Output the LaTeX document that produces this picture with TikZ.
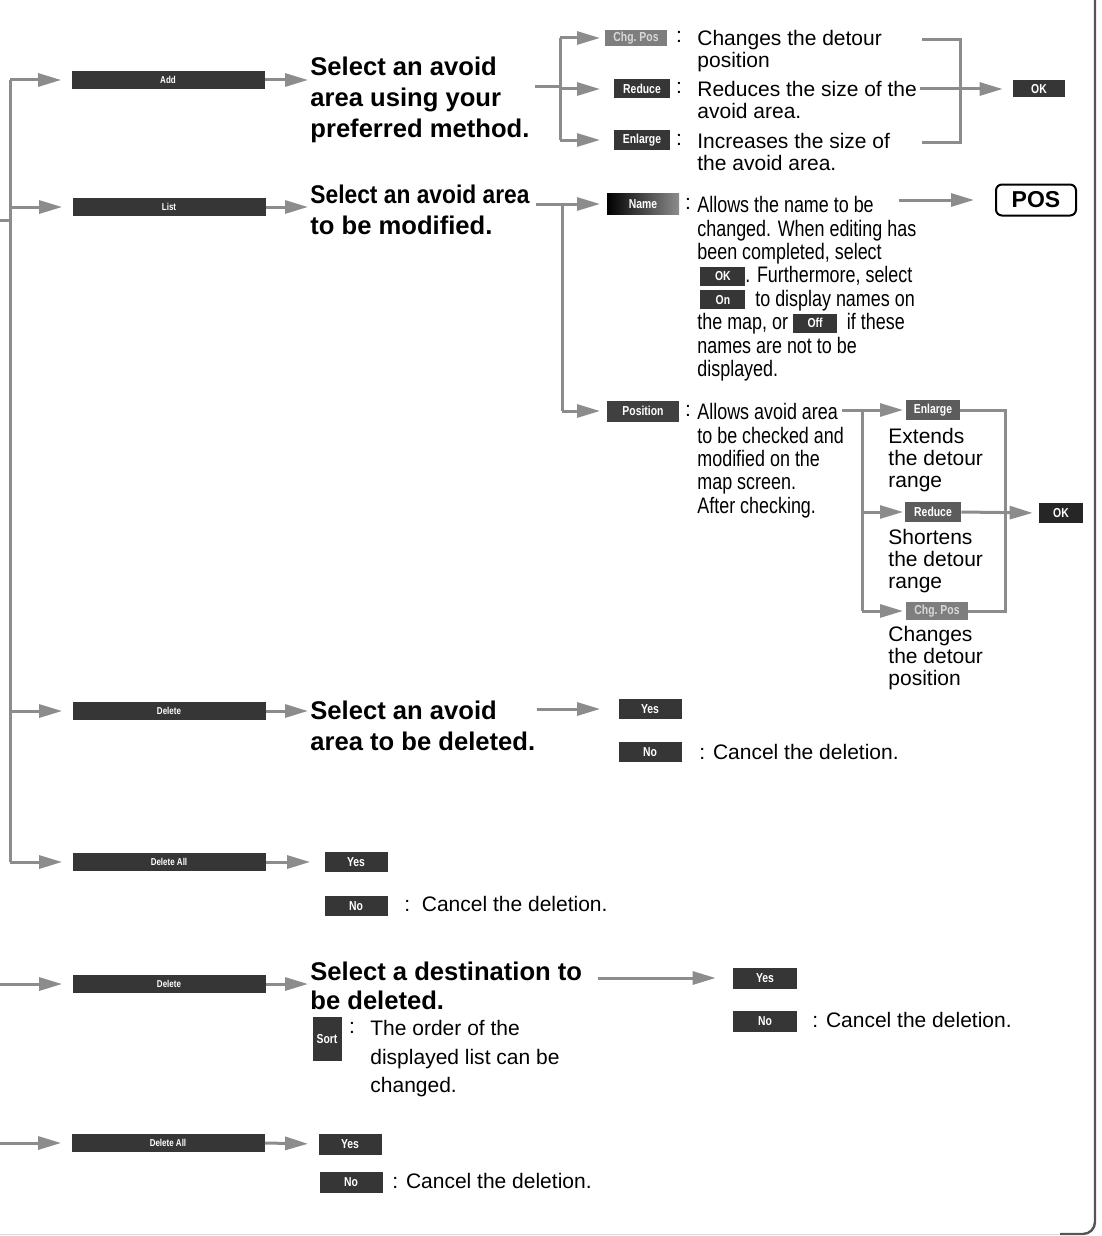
\documentclass[tikz,border=0pt]{standalone}
\usepackage{fontspec}
\setmainfont{Liberation Sans}
\newfontfamily\narrowfont[FakeStretch=0.8]{Liberation Sans}
\newfontfamily\headnarrow[FakeStretch=0.89]{Liberation Sans}
\usepackage{tikz}
\usetikzlibrary{arrows.meta,positioning,calc}
\usepackage{xcolor}
\definecolor{avgray}{HTML}{8C8C8C}
\definecolor{avdark}{HTML}{363636}
\definecolor{avmid}{HTML}{5C5C5C}
\definecolor{avlight}{HTML}{7E7E7E}
\definecolor{avframe}{HTML}{555555}
\tikzset{
  avbtn/.style={fill=avdark, text=white, inner sep=0pt, minimum width=31.5pt, minimum height=10pt,
    font=\narrowfont\bfseries\fontsize{6.5}{6.5}\selectfont},
  avlong/.style={avbtn, minimum width=96.5pt, minimum height=9pt,
    font=\narrowfont\bfseries\fontsize{5}{5}\selectfont},
  avhead/.style={anchor=north west, inner sep=0pt, align=left,
    font=\bfseries\fontsize{12.8}{15.5}\selectfont},
  avtext/.style={anchor=north west, inner sep=0pt, align=left, font=\fontsize{10.5}{11}\selectfont},
  avnarrow/.style={anchor=north west, inner sep=0pt, align=left,
    font=\narrowfont\fontsize{11.2}{11.7}\selectfont},
  avcolon/.style={inner sep=0pt, font=\fontsize{10.5}{11}\selectfont},
  avline/.style={draw=avgray, line width=1.5pt},
  avarrow/.style={avline, -{Triangle[length=11.5pt,width=6.5pt]}},
}
\newcommand{\avinbtn}[2]{{\setlength{\fboxsep}{0pt}\colorbox{avdark}{\makebox[#1]{\rule[-1.5pt]{0pt}{9.5pt}\raisebox{1pt}{\textcolor{white}{\bfseries\fontsize{6.5}{6.5}\selectfont #2}}}}}}

\begin{document}
\begin{tikzpicture}[x=0.5pt, y=-0.5pt]
  \useasboundingbox (0,0) rectangle (1102,1236);
  \coordinate (edge) at (0,0);

  % main menu buttons
  \node[avlong] (add) at (168,80) {Add};
  \node[avlong] (list) at (169,207) {List};
  \node[avlong] (del) at (169,711) {Delete};
  \node[avlong] (delall) at (169,862) {Delete All};
  \node[avlong] (deldest) at (169,984) {Delete};
  \node[avlong] (delalldest) at (168,1143) {Delete All};

  \coordinate (trunktop) at (10,80);
  \coordinate (trunkin) at (0,220);
  \draw[avline] (trunktop) -- (trunktop |- delall);
  \draw[avline] (trunkin) -- (trunkin -| trunktop);
  \foreach \b in {add,list,del,delall}
    \draw[avarrow, shorten >=5pt] (\b.west -| trunktop) -- (\b.west);
  \draw[avarrow, shorten >=5pt] (deldest.west -| edge) -- (deldest.west);
  \draw[avarrow, shorten >=5pt] (delalldest.west -| edge) -- (delalldest.west);

  % headings
  \node[avhead] (sadd) at (310,57) {Select an avoid\\area using your\\preferred method.};
  \node[avhead] (slist) at (310,185) {{\headnarrow\bfseries Select an avoid area}\\to be modified.};
  \node[avhead] (sdel) at (310,701) {Select an avoid\\area to be deleted.};
  \node[avhead, font=\bfseries\fontsize{12.8}{14.5}\selectfont] (sdest) at (310,962)
    {Select a destination to\\be deleted.};
  \foreach \b/\t in {add/sadd,list/slist,del/sdel,deldest/sdest}
    \draw[avarrow, shorten >=1pt] (\b.east) -- (\b.east -| \t.west);

  % Add
  \node[avbtn, fill=avlight, text=white!85!black, minimum width=31pt, minimum height=8pt] (chgA) at (636,38) {Chg.\ Pos};
  \node[avbtn, minimum width=28pt, minimum height=9.5pt] (redA) at (642,89) {Reduce};
  \node[avbtn, minimum width=28pt, minimum height=10pt] (enlA) at (642,140) {Enlarge};
  \node[avcolon] (cchgA) at (679,37) {:};
  \node[avcolon] (credA) at (679,88) {:};
  \node[avcolon] (cenlA) at (679,140) {:};
  \node[avtext] (tchgA) at (697,30) {Changes the detour\\position};
  \node[avtext] (tredA) at (697,81) {Reduces the size of the\\avoid area.};
  \node[avtext] (tenlA) at (697,133) {Increases the size of\\the avoid area.};
  \node[avbtn, minimum width=26pt, minimum height=8.5pt] (okA) at (1039,89) {OK};

  \coordinate (forkA) at (560,87);
  \coordinate (tipA) at (600,0);
  \draw[avline] ($(sadd.east |- forkA)+(5,0)$) -- (forkA);
  \draw[avline] (forkA |- chgA) -- (forkA |- enlA);
  \foreach \b in {chgA,redA,enlA}
    \draw[avarrow] (forkA |- \b) -- (tipA |- \b);
  \coordinate (joinA) at (960,87);
  \draw[avline] ($(joinA |- chgA)+(-38,2)$) -- ($(joinA |- chgA)+(0,2)$) -- ($(joinA |- enlA)+(0,2)$) -- ++(-38,0);
  \draw[avarrow, shorten >=5pt] ($(okA.west -| joinA)+(-40,0)$) -- (okA.west);

  % List
  \node[avbtn, left color=black, right color=black!45, minimum width=36pt, minimum height=10.5pt] (nameB) at (643,204) {Name};
  \node[avcolon] (cnameB) at (688,204) {:};
  \node[avnarrow] (tnameB) at (697,196) {Allows the name to be\\changed. When editing has\\been completed, select\\
    \hspace*{1.5pt}\avinbtn{22.5pt}{OK}. Furthermore, select\\
    \hspace*{1.5pt}\avinbtn{22.5pt}{On}\ \ to display names on\\
    the map, or \avinbtn{22pt}{Off}\ \ if these\\names are not to be\\displayed.};
  \node[draw=black, line width=1pt, rounded corners=3pt, minimum width=40pt, minimum height=15.5pt,
    inner sep=0pt, font=\bfseries\fontsize{11.5}{11.5}\selectfont] (posbox) at (1036,200) {POS};
  \draw[avarrow, shorten >=10.5pt] ($(posbox.west)+(-96,0)$) -- (posbox.west);

  \node[avbtn, fill=black!75, minimum width=36pt, minimum height=10.5pt] (posB) at (643,411) {Position};
  \node[avcolon] (cposB) at (688,411) {:};
  \node[avnarrow] (tposB) at (697,403) {Allows avoid area\\to be checked and\\modified on the\\map screen.\\After checking.};

  \coordinate (forkB) at (562,204);
  \draw[avline] ($(slist.north east |- forkB)+(6,0)$) -- (forkB) -- (forkB |- posB);
  \draw[avarrow] (forkB |- nameB) -- (tipA |- nameB);
  \draw[avarrow] (forkB |- posB) -- (tipA |- posB);

  % Position
  \node[avbtn, fill=avmid, minimum width=27pt, minimum height=10pt] (enlC) at (933,410) {Enlarge};
  \node[avbtn, fill=avmid, minimum width=28pt, minimum height=10pt] (redC) at (933,512) {Reduce};
  \node[avbtn, fill=avlight, text=white!85!black, minimum width=31pt, minimum height=9pt] (chgC) at (937,611) {Chg.\ Pos};
  \node[avbtn, fill=black!85, minimum width=22pt, minimum height=10pt] (okC) at (1061,513) {OK};
  \node[avtext] (tenlC) at (888,428) {Extends\\the detour\\range};
  \node[avtext] (tredC) at (888,529) {Shortens\\the detour\\range};
  \node[avtext] (tchgC) at (888,626) {Changes\\the detour\\position};

  \coordinate (forkC) at (862,410);
  \coordinate (tipC) at (903,0);
  \draw[avline] ($(forkC)+(-20,0)$) -- (forkC) -- (forkC |- chgC);
  \foreach \b in {enlC,redC,chgC}
    \draw[avarrow] (forkC |- \b) -- (tipC |- \b);
  \coordinate (joinC) at (1005,0);
  \draw[avline] (enlC.east) -- (joinC |- enlC) -- (joinC |- chgC) -- (chgC.east);
  \draw[avarrow, shorten >=3pt] (redC.east) -- (okC.west);

  % Delete
  \node[avbtn] (yesD) at (650,709) {Yes};
  \node[avbtn] (noD) at (650,752) {No};
  \node[avtext, anchor=west] (cnoD) at (699,752) {: Cancel the deletion.};
  \draw[avarrow, shorten >=9pt] ($(yesD.west)+(-81,0)$) -- (yesD.west);

  % Delete All
  \node[avbtn] (yesE) at (356,862) {Yes};
  \node[avbtn] (noE) at (356,906) {No};
  \node[avtext, anchor=west] (cnoE) at (404,904) {:\ \ Cancel the deletion.};
  \draw[avarrow, shorten >=7pt] (delall.east) -- (yesE.west);

  % destination Delete
  \node[avbtn, minimum width=32pt, minimum height=10.5pt] (yesF) at (765,978) {Yes};
  \node[avbtn, minimum width=32pt, minimum height=10.5pt] (noF) at (765,1021) {No};
  \node[avtext, anchor=west] (cnoF) at (812,1020) {: Cancel the deletion.};
  \draw[avarrow, shorten >=8.5pt] ($(yesF.west)+(-135,0)$) -- (yesF.west);
  \node[avbtn, minimum width=14.5pt, minimum height=22pt] (sortF) at (327,1039) {Sort};
  \node[avcolon] (csortF) at (352,1028) {:};
  \node[avtext, font=\fontsize{10.5}{14.3}\selectfont] (tsortF) at (370,1020)
    {The order of the\\displayed list can be\\changed.};

  % destination Delete All
  \node[avbtn, minimum height=10.5pt] (yesG) at (350,1144) {Yes};
  \node[avbtn, minimum height=10.5pt] (noG) at (351,1182) {No};
  \node[avtext, anchor=west] (cnoG) at (392,1181) {: Cancel the deletion.};
  \draw[avarrow, shorten >=5pt] (delalldest.east) -- (yesG.west);

  % page frame
  \draw[avframe, line width=1.2pt, rounded corners=6pt] (1095,0) -- (1095,1234) -- (1060,1234);
  \draw[black!15, line width=0.5pt] (1060,1234) -- (edge |- 0,1234);
\end{tikzpicture}
\end{document}
